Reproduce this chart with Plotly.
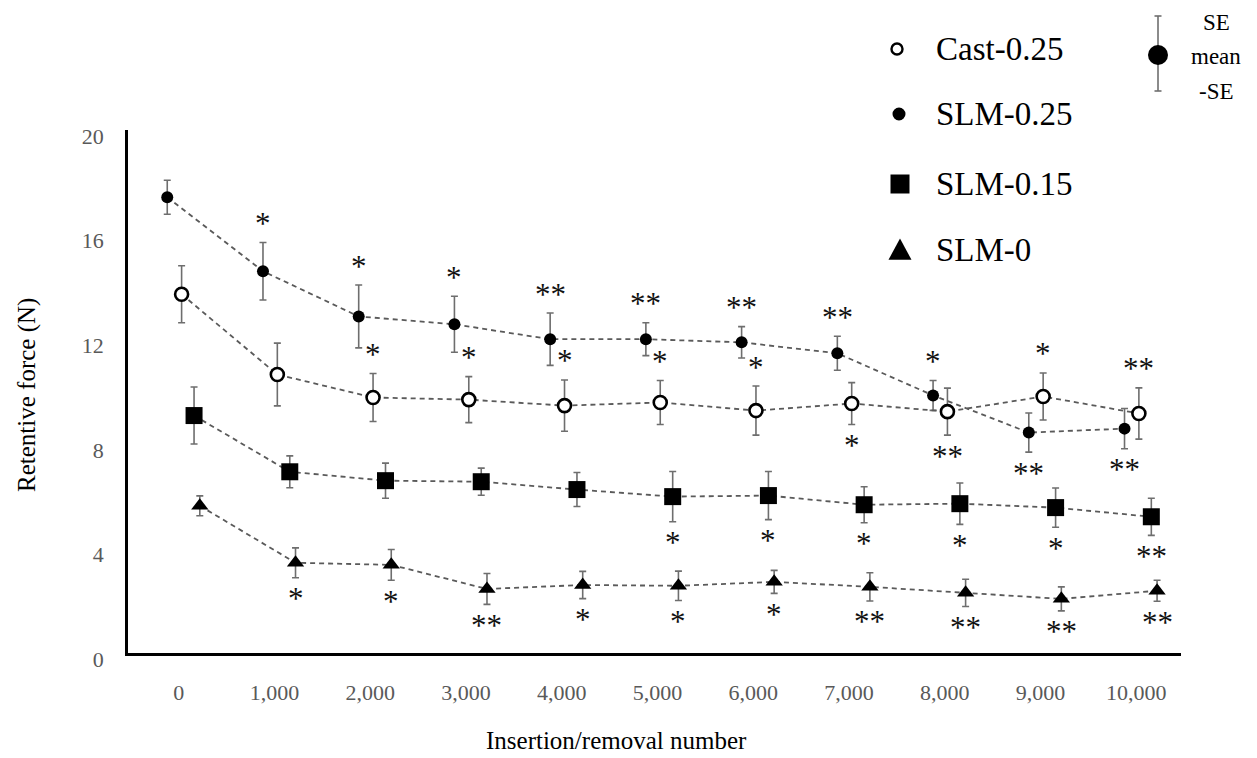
import plotly.graph_objects as go

# ---------------- data ----------------
categories = ["0", "1,000", "2,000", "3,000", "4,000", "5,000",
              "6,000", "7,000", "8,000", "9,000", "10,000"]

slm025_mean = [17.43, 14.6, 12.87, 12.57, 12.0, 12.0, 11.88, 11.46, 9.85, 8.43, 8.58]
slm025_se = [0.65, 1.1, 1.2, 1.07, 1.0, 0.63, 0.6, 0.65, 0.57, 0.75, 0.77]

cast025_mean = [13.72, 10.65, 9.77, 9.69, 9.46, 9.58, 9.27, 9.54, 9.23, 9.81, 9.16]
cast025_se = [1.09, 1.2, 0.92, 0.88, 0.98, 0.84, 0.94, 0.8, 0.9, 0.9, 0.98]

slm015_mean = [9.08, 6.93, 6.59, 6.55, 6.25, 5.98, 6.02, 5.67, 5.71, 5.56, 5.21]
slm015_se = [1.09, 0.61, 0.67, 0.52, 0.65, 0.96, 0.92, 0.69, 0.79, 0.75, 0.71]

slm0_mean = [5.63, 3.45, 3.37, 2.45, 2.6, 2.57, 2.72, 2.53, 2.3, 2.07, 2.38]
slm0_se = [0.38, 0.57, 0.59, 0.59, 0.52, 0.56, 0.44, 0.54, 0.52, 0.46, 0.4]

# significance marks and where they sit (a = above error bar, b = below)
slm025_sig = ["", "*", "*", "*", "**", "**", "**", "**", "*", "**", "**"]
slm025_pos = ["", "a", "a", "a", "a", "a", "a", "a", "a", "b", "b"]
cast025_sig = ["", "", "*", "*", "*", "*", "*", "*", "**", "*", "**"]
cast025_pos = ["", "", "a", "a", "a", "a", "a", "b", "b", "a", "a"]
slm015_sig = ["", "", "", "", "", "*", "*", "*", "*", "*", "**"]
slm015_pos = ["", "", "", "", "", "b", "b", "b", "b", "b", "b"]
slm0_sig = ["", "*", "*", "**", "*", "*", "*", "**", "**", "**", "**"]
slm0_pos = ["", "b", "b", "b", "b", "b", "b", "b", "b", "b", "b"]

yticks = [0, 4, 8, 12, 16, 20]

# ---------------- styling ----------------
SERIF = "Liberation Serif, Times New Roman, serif"
LINE_GRAY = "#5a5a5a"
ERR_GRAY = "#6e6e6e"

# page offset of the plot (the html body adds an 8px margin)
PAGE_OFF = 8
FIG_W, FIG_H = 1257 - PAGE_OFF, 758 - PAGE_OFF
L, R, T, B = 128, 1181, 130, 653   # plot area in page pixels


def px(xp):
    return (xp - L) / (R - L)


def py(yp):
    return (B - yp) / (B - T)


series = [
    ("SLM-0.25", slm025_mean, slm025_se, -0.09,
     dict(symbol="circle", size=12, color="black"), slm025_sig, slm025_pos),
    ("Cast-0.25", cast025_mean, cast025_se, 0.06,
     dict(symbol="circle", size=13, color="white", line=dict(color="black", width=2.6)),
     cast025_sig, cast025_pos),
    ("SLM-0.15", slm015_mean, slm015_se, 0.19,
     dict(symbol="square", size=17, color="black"), slm015_sig, slm015_pos),
    ("SLM-0", slm0_mean, slm0_se, 0.25,
     dict(symbol="triangle-up", size=15, color="black"), slm0_sig, slm0_pos),
]

fig = go.Figure()
annotations = []
shapes = []

for name, mean, se, off, marker, sig, pos in series:
    xs = [i + off for i in range(len(categories))]
    fig.add_trace(go.Scatter(
        x=xs, y=mean, mode="lines+markers", name=name,
        line=dict(color=LINE_GRAY, width=1.8, dash="5px,4px"),
        marker=marker,
        error_y=dict(type="data", array=se, visible=True,
                     color=ERR_GRAY, thickness=1.6, width=3.5),
        showlegend=False,
    ))
    for i, (s, p) in enumerate(zip(sig, pos)):
        if not s:
            continue
        if p == "a":
            yv = mean[i] + se[i]
            shift = 19
        else:
            yv = mean[i] - se[i]
            shift = -21
        annotations.append(dict(
            x=xs[i], y=yv, xref="x", yref="y", text=s, showarrow=False,
            xanchor="center", yanchor="middle", yshift=shift,
            font=dict(family=SERIF, size=31, color="#111111"),
        ))

# ---------------- custom legend (page pixel positions) ----------------
def marker_shape(kind, cx, cy, r, filled=True, lw=0):
    base = dict(xref="paper", yref="paper", xsizemode="pixel", ysizemode="pixel",
                xanchor=px(cx), yanchor=py(cy), layer="above",
                fillcolor="black" if filled else "white",
                line=dict(color="black", width=lw))
    if kind == "circle":
        base.update(type="circle", x0=-r, x1=r, y0=-r, y1=r)
    elif kind == "square":
        base.update(type="rect", x0=-r, x1=r, y0=-r, y1=r)
    else:
        base.update(type="path",
                    path=f"M {-r},{-0.85 * r} L {r},{-0.85 * r} L 0,{r} Z")
    return base


leg_items = [
    ("Cast-0.25", "circle", 897, 49, 5.5, False, 2.4),
    ("SLM-0.25", "circle", 899, 114, 6.5, True, 0),
    ("SLM-0.15", "square", 900, 184, 9.5, True, 0),
    ("SLM-0", "triangle", 900, 250, 11.5, True, 0),
]
for label, kind, cx, cy, r, filled, lw in leg_items:
    shapes.append(marker_shape(kind, cx, cy, r, filled, lw))
    annotations.append(dict(
        x=px(934), y=py(cy), xref="paper", yref="paper", text=label, showarrow=False,
        xanchor="left", yanchor="middle",
        font=dict(family=SERIF, size=33, color="black")))

# SE key: whisker + caps + dot
SE_X, SE_TOP, SE_BOT, SE_MID = 1158, 16, 91, 55
line_style = dict(color=ERR_GRAY, width=1.6)
shapes.append(dict(type="line", xref="paper", yref="paper",
                   x0=px(SE_X), x1=px(SE_X), y0=py(SE_TOP), y1=py(SE_BOT), line=line_style))
for yy in (SE_TOP, SE_BOT):
    shapes.append(dict(type="line", xref="paper", yref="paper",
                       x0=px(SE_X - 3.5), x1=px(SE_X + 3.5), y0=py(yy), y1=py(yy),
                       line=line_style))
shapes.append(marker_shape("circle", SE_X, SE_MID, 10, True, 0))
for txt, yy in [("SE", 22), ("mean", 57), ("-SE", 92)]:
    annotations.append(dict(
        x=px(1216), y=py(yy), xref="paper", yref="paper", text=txt, showarrow=False,
        xanchor="center", yanchor="middle",
        font=dict(family=SERIF, size=23, color="black")))

# axis titles
annotations.append(dict(
    x=px(27), y=py(395), xref="paper", yref="paper", text="Retentive force (N)",
    showarrow=False, textangle=-90, xanchor="center", yanchor="middle",
    font=dict(family=SERIF, size=25, color="black")))
annotations.append(dict(
    x=px(616), y=py(740), xref="paper", yref="paper", text="Insertion/removal number",
    showarrow=False, xanchor="center", yanchor="middle",
    font=dict(family=SERIF, size=25, color="black")))

fig.update_layout(
    width=FIG_W, height=FIG_H,
    margin=dict(l=L - PAGE_OFF, r=1257 - R, t=T - PAGE_OFF, b=758 - B),
    paper_bgcolor="white", plot_bgcolor="white",
    showlegend=False,
    xaxis=dict(
        range=[-0.5, len(categories) - 0.5],
        tickvals=list(range(len(categories))), ticktext=categories,
        showgrid=False, zeroline=False, showline=True,
        linecolor="black", linewidth=2.5, ticks="",
        tickfont=dict(family=SERIF, size=22, color="#595959"),
        ticklabelstandoff=18, ticklabelshift=3,
    ),
    yaxis=dict(
        range=[0, 20], tickvals=yticks,
        showgrid=False, zeroline=False, showline=True,
        linecolor="black", linewidth=2.5, ticks="",
        tickfont=dict(family=SERIF, size=22, color="#595959"),
        ticklabelstandoff=17, ticklabelshift=6,
    ),
    annotations=annotations,
    shapes=shapes,
)

fig.write_html("out.html")
